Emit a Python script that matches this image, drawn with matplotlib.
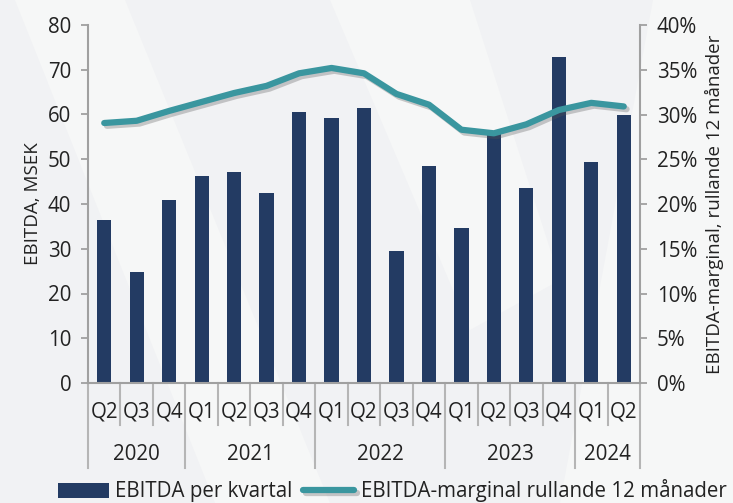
import matplotlib.pyplot as plt
import matplotlib.patheffects as pe
from matplotlib.patches import Polygon
from matplotlib.ticker import FuncFormatter

plt.rcParams['font.family'] = ['Open Sans', 'DejaVu Sans']

quarters = ['Q2', 'Q3', 'Q4', 'Q1', 'Q2', 'Q3', 'Q4', 'Q1', 'Q2', 'Q3', 'Q4',
            'Q1', 'Q2', 'Q3', 'Q4', 'Q1', 'Q2']
years = ['2020', '2021', '2022', '2023', '2024']
year_counts = [3, 4, 4, 4, 2]
ebitda = [36.4, 24.8, 40.9, 46.3, 47.2, 42.5, 60.6, 59.2, 61.5, 29.5, 48.5,
          34.6, 56.0, 43.6, 72.8, 49.4, 59.9]
margin = [29.05, 29.3, 30.4, 31.4, 32.4, 33.2, 34.6, 35.2, 34.6, 32.3, 31.1,
          28.3, 27.9, 28.9, 30.5, 31.3, 30.9]

bar_col = '#233b63'
line_col = '#3a969f'
bg = '#f1f2f4'
txt = '#222222'
fs = 14.8

fig = plt.figure(figsize=(7.33, 5.03), dpi=100, facecolor=bg)

# faint decorative stripes in the background
W, H = 733, 503
for poly in [[(15, 0), (125, 0), (330, 503), (215, 503)],
             [(330, 0), (470, 0), (560, 280), (470, 330)],
             [(653, 0), (733, 0), (733, 503), (560, 503)]]:
    pts = [(x / W, 1 - y / H) for x, y in poly]
    fig.patches.append(Polygon(pts, closed=True, transform=fig.transFigure,
                               facecolor='#f6f7f7', edgecolor='none', zorder=-10))

ax = fig.add_axes([88 / W, 1 - 383 / H, (640 - 88) / W, (383 - 25) / H])
ax.set_facecolor('none')
x = list(range(len(quarters)))
ax.bar(x, ebitda, width=0.44, color=bar_col, zorder=2,
       label='EBITDA per kvartal')
ax.set_ylim(0, 80)
ax.set_xlim(-0.5, len(quarters) - 0.5)
ax.set_yticks(range(0, 81, 10))
ax.set_ylabel('EBITDA, MSEK', fontsize=13.5, color=txt, labelpad=4)
ax.tick_params(axis='y', labelsize=fs, colors='#999999', labelcolor=txt,
               length=5, width=1.2, pad=7)
ax.set_xticks([])
for s in ['top', 'right']:
    ax.spines[s].set_visible(False)
for s in ['left', 'bottom']:
    ax.spines[s].set_color('#a0a0a0')
    ax.spines[s].set_linewidth(1.5)

ax2 = ax.twinx()
ax2.plot(x, margin, color=line_col, lw=4.5, solid_capstyle='round', zorder=3,
         path_effects=[pe.SimpleLineShadow(offset=(2, -2), shadow_color='#555555', alpha=0.3),
                       pe.Normal()],
         label='EBITDA-marginal rullande 12 månader')
ax2.set_ylim(0, 40)
ax2.set_yticks(range(0, 41, 5))
ax2.yaxis.set_major_formatter(FuncFormatter(lambda v, p: f'{int(v)}%'))
ax2.set_ylabel('EBITDA-marginal, rullande 12 månader', fontsize=13.5,
               color=txt, labelpad=6)
ax2.tick_params(axis='y', labelsize=fs, colors='#999999', labelcolor=txt,
                length=5, width=1.2, pad=7)
for s in ['top', 'left', 'bottom']:
    ax2.spines[s].set_visible(False)
ax2.spines['right'].set_color('#a0a0a0')
ax2.spines['right'].set_linewidth(1.5)

# two-level category axis
tr = ax.get_xaxis_transform()
ph = (383 - 25)
q_low = -(425 - 383) / ph
y_low = -(468 - 383) / ph
for i, q in enumerate(quarters):
    ax.text(i, -(412 - 383) / ph, q, transform=tr, ha='center', va='center',
            fontsize=fs, color=txt)
bounds = [-0.5]
for c in year_counts:
    bounds.append(bounds[-1] + c)
for i in range(len(quarters) + 1):
    b = i - 0.5
    low = y_low if b in bounds else q_low
    ax.plot([b, b], [0, low], transform=tr, color='#b5b5b5', lw=1.5,
            clip_on=False, zorder=1)
for k, yr in enumerate(years):
    mid = (bounds[k] + bounds[k + 1]) / 2
    ax.text(mid, -(455 - 383) / ph, yr, transform=tr, ha='center',
            va='center', fontsize=fs, color=txt)

h1, l1 = ax.get_legend_handles_labels()
h2, l2 = ax2.get_legend_handles_labels()
fig.legend(h1 + h2, l1 + l2, loc='center', bbox_to_anchor=(392 / W, 1 - 491 / H),
           ncol=2, frameon=False, fontsize=fs, handlelength=2.5,
           handleheight=0.7, columnspacing=0.5, handletextpad=0.3,
           labelcolor=txt)

fig.savefig('out.png', dpi=100, facecolor=bg)
